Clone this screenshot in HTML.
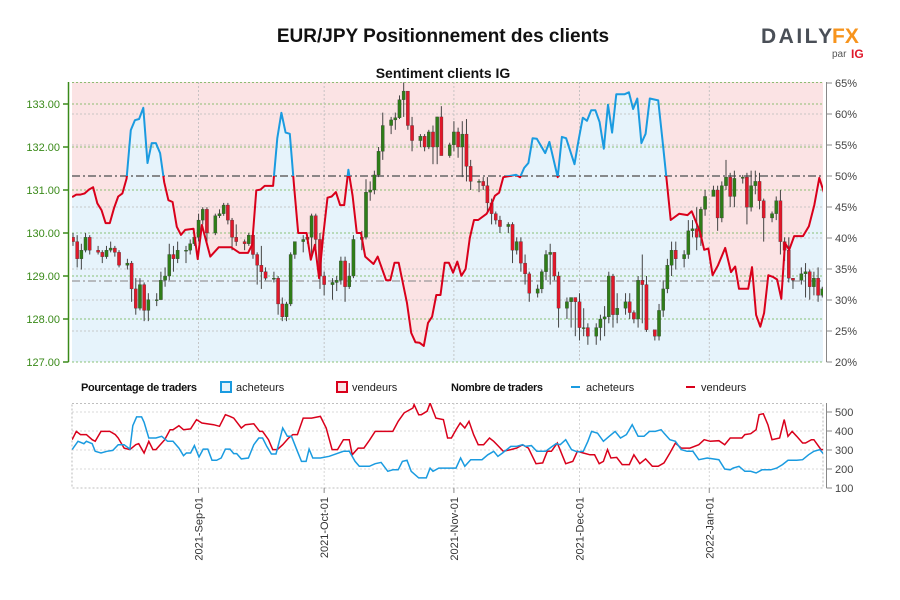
<!DOCTYPE html>
<html><head><meta charset="utf-8">
<style>
html,body{margin:0;padding:0;background:#fff;}
svg{display:block;font-family:"Liberation Sans",sans-serif;}
</style></head>
<body>
<svg id="chart" width="900" height="600" viewBox="0 0 900 600">
<defs>
<clipPath id="plotClip"><rect x="72" y="82" width="751" height="280"/></clipPath>
<clipPath id="aboveHalf"><rect x="72" y="82" width="751" height="94"/></clipPath>
<clipPath id="belowHalf"><rect x="72" y="176" width="751" height="186"/></clipPath>
<clipPath id="botClip"><rect x="72" y="403" width="751" height="85"/></clipPath>
</defs>
<text x="443" y="42" text-anchor="middle" font-size="19" font-weight="bold" fill="#111">EUR/JPY Positionnement des clients</text>
<text x="443" y="78" text-anchor="middle" font-size="14" font-weight="bold" fill="#111">Sentiment clients IG</text>
<g>
<text x="761" y="43" font-size="21" font-weight="bold" fill="#4a4f57" letter-spacing="2.5">DAILY</text>
<text x="832" y="43" font-size="21" font-weight="bold" fill="#f7941d">FX</text>
<text x="832" y="57" font-size="10" fill="#555">par</text>
<text x="851" y="58" font-size="12" font-weight="bold" fill="#e0182a">IG</text>
</g>
<g id="main"></g>
<g id="legend">
<text x="81" y="391" font-size="11" font-weight="bold" fill="#111" textLength="116">Pourcentage de traders</text>
<rect x="221" y="382" width="10" height="10" fill="#e6f3fb" stroke="#1a9be0" stroke-width="2"/>
<text x="236" y="391" font-size="11" fill="#222">acheteurs</text>
<rect x="337" y="382" width="10" height="10" fill="#fbe3e4" stroke="#d9001b" stroke-width="2"/>
<text x="352" y="391" font-size="11" fill="#222">vendeurs</text>
<text x="451" y="391" font-size="11" font-weight="bold" fill="#111" textLength="92">Nombre de traders</text>
<rect x="571" y="386" width="9" height="2" fill="#1a9be0"/>
<text x="586" y="391" font-size="11" fill="#222">acheteurs</text>
<rect x="686" y="386" width="9" height="2" fill="#d9001b"/>
<text x="701" y="391" font-size="11" fill="#222">vendeurs</text>
</g>
<g id="bottom"></g>
</svg>
<script>
// ---- data ----
const closes = [129.8,129.4,129.6,129.9,129.6,
129.55,129.45,129.6,129.65,129.55,129.25,
129.3,128.7,128.25,128.8,128.2,128.45,
128.45,128.9,129.0,129.5,129.4,129.6,
129.6,129.75,129.9,130.3,130.55,130.0,
130.4,130.45,130.65,130.3,129.9,129.8,
129.75,129.95,129.5,129.25,129.1,128.95,
128.95,128.35,128.05,128.35,129.5,129.8,
129.85,129.9,130.4,129.85,129.0,128.8,
128.85,128.9,129.35,128.75,129.0,129.85,
129.9,130.95,131.0,131.35,131.9,132.5,
132.63,132.68,133.1,133.3,132.5,132.15,
132.25,132.0,132.35,132.0,132.7,131.8,
132.05,132.35,132.0,132.3,131.55,131.2,
131.2,131.1,130.7,130.45,130.3,130.15,
130.2,129.6,129.8,129.3,129.05,128.6,
128.7,129.1,129.5,129.55,129.0,128.25,
128.4,128.5,128.4,127.8,127.8,127.6,
127.8,128.0,128.05,129.0,128.1,128.25,
128.4,128.15,128.0,128.9,128.8,127.75,
127.6,128.2,128.7,129.25,129.6,129.4,
129.5,130.05,130.1,129.9,130.55,130.85,
131.0,130.35,131.1,131.3,130.85,131.27,
131.3,130.6,131.1,131.2,130.75,130.35,
130.45,130.75,129.8,129.6,128.95,128.9,
129.05,129.1,128.75,128.95,128.55,128.7];
const highs = [130.0,129.95,129.75,130.0,129.95,
129.7,129.6,129.7,129.8,129.7,129.6,
129.4,129.35,128.95,128.95,128.85,128.6,
128.6,129.1,129.2,129.75,129.7,129.8,
129.7,129.85,130.0,130.45,130.6,130.6,
130.45,130.55,130.7,130.7,130.35,130.2,
129.85,130.0,130.05,129.55,129.7,129.2,
129.1,129.0,128.5,128.4,129.55,129.8,
129.95,129.95,130.45,130.45,130.0,129.1,
128.95,129.0,129.45,129.45,129.3,129.95,
130.05,131.25,131.2,131.45,132.0,132.8,
132.7,132.8,133.2,133.5,133.3,132.7,
132.3,132.3,132.4,132.5,132.7,132.95,
132.1,132.6,132.45,132.6,132.65,131.7,
131.25,131.3,131.3,130.8,130.5,130.4,
130.25,130.25,129.9,129.9,129.5,129.1,
128.8,129.15,129.6,129.75,129.55,129.1,
128.5,128.5,128.5,128.6,128.25,127.9,
127.9,128.1,128.3,129.1,129.05,128.6,
128.6,128.6,128.2,129.0,129.5,129.0,
127.7,128.35,128.9,129.4,129.8,129.8,
129.6,130.3,130.3,130.6,130.6,131.0,
131.1,131.1,131.2,131.7,131.4,131.45,
131.35,131.4,131.45,131.45,131.4,130.8,
130.5,130.85,131.0,129.9,129.9,128.95,
129.2,129.3,129.15,129.1,129.2,128.75];
const lows = [129.7,129.2,129.15,129.55,129.5,
129.5,129.3,129.4,129.55,129.45,129.2,
129.15,128.4,128.1,128.2,127.95,127.95,
128.3,128.5,128.75,128.9,129.1,129.3,
129.3,129.5,129.7,129.8,130.2,129.8,
129.95,130.35,130.4,130.2,129.6,129.7,
129.6,129.7,129.4,128.8,128.7,128.9,
128.85,128.1,127.95,127.95,128.3,129.4,
129.55,129.75,129.5,129.65,128.7,128.55,
128.45,128.65,128.8,128.4,128.7,128.95,
129.6,129.85,130.75,130.9,131.3,131.7,
132.3,132.4,132.65,132.7,132.4,131.9,
132.0,131.9,131.95,131.6,131.6,131.8,
131.75,131.9,131.75,131.3,131.2,131.0,
130.95,131.0,130.5,130.2,130.2,130.0,
130.0,129.3,129.5,129.1,128.8,128.4,
128.5,128.6,128.9,128.8,128.9,127.8,
128.0,127.8,127.6,127.5,127.6,127.4,
127.4,127.5,127.6,127.9,127.8,127.9,
128.1,128.0,127.9,127.8,127.9,127.7,
127.5,127.5,128.05,128.6,129.0,129.15,
129.2,129.4,129.9,129.6,129.7,130.4,
130.85,130.05,130.25,131.0,130.6,130.6,
131.15,130.2,130.5,130.9,130.55,129.8,
130.25,130.3,129.5,129.35,128.85,128.7,
128.8,128.5,128.45,128.55,128.4,128.5];
const firstOpen = 129.9;

const sentDays = [0,1,2,3,4,5,6,7,8,9,10,11,12,13,14,15,16,17,18,19,20,21,22,23,24,25,26,27,29,30,31,33,35,38,40,42,43,44,45,46,48,49,50,51,52,53,54,56,57,58,59,60,61,62,63,64,65,66,67,68,69,70,72,73,75,76,77,78,80,81,82,83,84,85,86,87,88,89,90,91,92,93,94,95,96,97,99,100,101,102,103,106,107,108,109,110,111,113,114,116,117,118,120,121,122,123,124,125,126,127,128,129,130,132,133,134,135,136,137,138,140,141,142,143,145,147,148,150,151,152,153,154.3,156,157.4,158.4,159.3,161.5,162.4,163.4,164.4,165.3,166.3,167.5,168.4,169.4,170.3,171.3,172.5,174.6,176,177.3,178.5,179.7];
const sentLong = [46.6,47,47,47.2,47.8,48.2,45.6,44.5,42.4,42.4,44.8,46.7,47.2,49.6,57.4,59,59.2,61,52.1,55.3,55.3,53.7,49,46.1,45.8,41.8,40.5,41.3,41.5,36.6,42.1,37,38.5,38.5,37.6,37.6,38.9,47.7,47.8,48.4,48.4,56.1,60.2,57,56.8,48.5,40.8,40.8,36.5,38.9,33.5,40.5,46.5,46.7,47.4,45.3,45.3,51,46.8,40.8,40.8,37,35.8,37,33.2,33.2,36,36,29.5,24.7,23.2,23.1,22.6,26.3,27.3,30.8,30.8,36,36,34.4,36.2,33.9,35,40,42.9,42.9,43.9,45.1,46.8,47.3,49.8,50.2,49.8,51.3,52.1,56.1,56,53.7,55.5,49.8,56.3,56.1,51.9,55.9,59.4,58.9,60.6,60.6,58.7,54.4,61.5,57,63.2,63.2,63.5,60.8,62.5,55.3,56.8,62.5,62.2,55.9,49.4,42.9,43.9,43.7,44.3,41,38.1,38.3,34,35.6,38.4,34.5,35.4,31.8,31.8,35.3,27.6,25.7,27.9,34,33.7,33.3,30.2,39.2,38.1,40.3,40.3,41.9,45.3,49.7,47.1];

const buyDays = [0,1.4,2.8,3.4,4.8,5.5,6.9,8.3,9.7,11,12.4,13.8,14.5,15.4,16.6,17.2,18.3,20,21.4,22.8,24.1,25.5,26.6,27.3,28.3,29.2,30.3,31.3,32.4,33.4,34.5,35.6,36.6,37.7,38.6,39.3,40.4,42.1,43.4,44.6,45.5,46.5,47.6,48.7,49.4,50.3,51.4,52.4,53.8,54.8,55.9,56.6,57.5,59.3,61.4,64.8,66.2,67.6,68.6,71,72.4,73.8,75.4,76.6,77.9,78.9,80,81,82.8,84.6,85.5,86.2,87.6,91.7,92.8,93.8,95.2,97.9,99.3,100.7,101.7,102.8,104.8,106.2,107.6,108.3,109.7,111,113.1,114.5,115.6,116.6,117.9,119.3,120.7,122.1,123.2,124.1,125.5,126.9,128.3,129.7,131,132.4,133.8,135.2,136.6,137.9,139.3,140.7,141.4,142.8,144.1,145.5,146.9,148.3,149.7,151.7,154.5,155.9,157.2,157.9,159.3,160.7,162.1,163.4,164.8,166.9,168.3,169.7,171,173.1,174.5,175.9,177.2,178.6,180];
const buyCount = [302,346,333,346,333,293,284,293,298,328,328,305,428,474,474,446,363,363,372,346,346,310,270,284,284,323,263,305,305,246,246,258,305,305,281,281,253,258,328,363,363,319,279,279,337,416,372,372,293,240,240,305,258,258,267,293,293,240,214,214,228,235,188,196,196,240,246,188,153,153,205,188,205,205,258,214,249,249,275,293,267,284,319,319,328,319,323,293,293,316,333,328,354,302,290,293,346,398,389,346,372,398,363,381,433,372,372,398,398,407,389,354,346,302,293,293,249,258,249,200,196,205,214,188,188,179,196,196,205,223,246,246,249,275,293,302,267];

const sellDays = [0,1,2,3.4,4.8,5.5,6.9,9,10.3,11,12.4,13.8,15.2,15.9,17.2,18.3,19.3,20,22.1,23.4,24.1,25.5,26.6,28.3,29.7,31,33.8,35.2,36.6,37.7,38.6,40.4,41.4,43.4,44.8,45.5,46.9,47.9,49,50.3,51.7,52.7,53.8,55.2,57.2,59.3,60.7,62.1,63.4,64.8,66.2,66.9,68.3,69.7,71,72.4,76.6,77.9,79.3,81.4,81.7,82.8,83.4,84.8,85.5,86.9,88.7,89.7,90.6,91.7,92.7,93.8,94.8,95.9,97,98.3,99.7,100.7,101.7,103,104.8,106.2,107.6,109,110.8,112.4,113.5,114.5,115.9,117.9,119.6,120.7,122.1,123.7,124.8,125.9,126.9,127.9,128.7,130.1,131.4,133.1,134.2,135.6,137,138.6,140,141.4,142.8,144.1,145.5,147.6,149.7,151,152.4,154.5,155.9,157.2,160,160.7,162.1,163.4,164.1,165.1,166.2,167.2,169,170.1,171,172,173.1,174.5,175.2,176.6,177.2,178.9,180];
const sellCount = [354,398,381,381,354,346,398,398,381,363,310,302,328,333,284,346,302,302,354,407,407,428,407,411,460,442,433,425,486,477,468,416,433,438,398,398,354,302,302,328,363,381,381,468,468,477,416,302,302,354,354,275,310,310,351,398,398,451,495,521,539,486,486,504,547,468,460,363,363,407,442,416,451,381,328,328,363,346,323,293,302,310,328,310,228,232,293,293,337,228,240,293,284,275,275,228,240,302,258,261,223,223,275,228,253,214,214,232,284,337,310,310,328,354,346,349,328,363,363,381,386,407,486,491,433,354,363,460,372,398,372,337,337,354,354,302,302];

const priceTicks = ["127.00","128.00","129.00","130.00","131.00","132.00","133.00"];
const pctTicks = ["20%","25%","30%","35%","40%","45%","50%","55%","60%","65%"];
const countTicks = ["100","200","300","400","500"];
const monthLabels = ["2021-Sep-01","2021-Oct-01","2021-Nov-01","2021-Dec-01","2022-Jan-01"];
const monthDays = [31,61,92,122,153];

// ---- scales ----
const LINE_SHIFT = 0.8;
const xs = d => 68.8 + 4.186*d;
const py = p => 104 + (133 - p)*43;
const qy = q => 362 - (q - 20)*6.2;
const cy = v => 488 - (v - 100)*0.19;
const NS = "http://www.w3.org/2000/svg";
function mk(tag, attrs, parent){
  const e = document.createElementNS(NS, tag);
  for (const k in attrs) e.setAttribute(k, attrs[k]);
  parent.appendChild(e); return e;
}
const main = document.getElementById('main');
const bottom = document.getElementById('bottom');

// background pink (sellers area)
const bg = mk('rect',{x:72,y:82,width:751,height:280,fill:'#fbe3e4'},main);



// blue area under line
let pts = sentDays.map((d,i)=>xs(d+LINE_SHIFT).toFixed(1)+','+qy(sentLong[i]).toFixed(1));
const area = mk('polygon',{points: xs(sentDays[0]+LINE_SHIFT-1).toFixed(1)+',362 '+xs(sentDays[0]+LINE_SHIFT-1).toFixed(1)+','+qy(sentLong[0]).toFixed(1)+' '+pts.join(' ')+' '+xs(sentDays[sentDays.length-1]+LINE_SHIFT+1).toFixed(1)+','+qy(sentLong[sentLong.length-1]).toFixed(1)+' '+xs(sentDays[sentDays.length-1]+LINE_SHIFT+1).toFixed(1)+',362',fill:'#e6f3fb','clip-path':'url(#plotClip)'},main);



// grids
for (let p=127;p<=133;p++){
  const g = mk('line',{x1:72,x2:823,y1:py(p),y2:py(p),stroke:'#6ab04c','stroke-width':0.8,'stroke-dasharray':'2,2'},main);
  
  
}
const gt = mk('line',{x1:72,x2:823,y1:82.5,y2:82.5,stroke:'#6ab04c','stroke-width':0.8,'stroke-dasharray':'2,2'},main);


for (let q=25;q<=60;q+=5){
  if (q===50) continue;
  const g = mk('line',{x1:72,x2:823,y1:qy(q),y2:qy(q),stroke:'#bbb','stroke-width':0.8,'stroke-dasharray':'2,2'},main);
  
  
}
monthDays.forEach(d=>{
  const g = mk('line',{x1:xs(d),x2:xs(d),y1:82,y2:362,stroke:'#bbb','stroke-width':0.8,'stroke-dasharray':'2,2'},main);
  
  
});
const l50 = mk('line',{x1:72,x2:823,y1:qy(50),y2:qy(50),stroke:'#666','stroke-width':1.4,'stroke-dasharray':'8,3,2,3'},main);


const lref = mk('line',{x1:72,x2:823,y1:281,y2:281,stroke:'#999','stroke-width':1.2,'stroke-dasharray':'8,3,2,3'},main);



// candles
const cg = mk('g',{'clip-path':'url(#plotClip)'},main);


let d = 1, prev = firstOpen;
for (let i=0;i<closes.length;i++){
  while (d % 7 === 6) d++;
  const o = prev, c = closes[i], x = xs(d);
  const up = c >= o;
  const w = mk('line',{x1:x,x2:x,y1:py(highs[i]),y2:py(lows[i]),stroke:'#444','stroke-width':1},cg);
  
  
  const top = py(Math.max(o,c)), h = Math.max(1, Math.abs(py(o)-py(c)));
  const b = mk('rect',{x:x-1.6,y:top,width:3.2,height:h,fill: up?'#2f7d18':'#e0182a',stroke:'#333','stroke-width':0.3},cg);
  
  
  prev = c; d++;
}

// sentiment line
const lp = sentDays.map((dd,i)=>xs(dd+LINE_SHIFT).toFixed(1)+','+qy(sentLong[i]).toFixed(1)).join(' ');
const lb = mk('polyline',{points:lp,fill:'none',stroke:'#1a9be0','stroke-width':2,'clip-path':'url(#aboveHalf)','stroke-linejoin':'round'},main);


const lr = mk('polyline',{points:lp,fill:'none',stroke:'#d9001b','stroke-width':2,'clip-path':'url(#belowHalf)','stroke-linejoin':'round'},main);



// axes
const la = mk('line',{x1:68.5,x2:68.5,y1:82,y2:362,stroke:'#3a8a1a','stroke-width':1.5},main);


priceTicks.forEach((t,i)=>{
  const y = py(127+i);
  const tk = mk('line',{x1:63,x2:68.5,y1:y,y2:y,stroke:'#3a8a1a','stroke-width':1.5},main);
  
  
  const tx = mk('text',{x:60,y:y+4,'text-anchor':'end','font-size':11,fill:'#3a8a1a'},main);
  tx.textContent = t;
  
  
});
const ra = mk('line',{x1:826.5,x2:826.5,y1:82,y2:362,stroke:'#888','stroke-width':1},main);


pctTicks.forEach((t,i)=>{
  const y = qy(20+i*5);
  const tk = mk('line',{x1:826.5,x2:832,y1:y,y2:y,stroke:'#888','stroke-width':1},main);
  
  
  const tx = mk('text',{x:835,y:y+4,'font-size':11,fill:'#444'},main);
  tx.textContent = t;
  
  
});

// bottom chart
const bb = mk('rect',{x:72,y:403.5,width:751,height:84.5,fill:'none',stroke:'#aaa','stroke-width':0.8,'stroke-dasharray':'2,2'},bottom);


[200,300,400,500].forEach(v=>{
  const g = mk('line',{x1:72,x2:823,y1:cy(v),y2:cy(v),stroke:'#ccc','stroke-width':0.8,'stroke-dasharray':'2,2'},bottom);
  
  
});
monthDays.forEach((md,i)=>{
  const x = xs(md);
  const g = mk('line',{x1:x,x2:x,y1:403,y2:488,stroke:'#ccc','stroke-width':0.8,'stroke-dasharray':'2,2'},bottom);
  
  
  const tk = mk('line',{x1:x,x2:x,y1:488,y2:493,stroke:'#888','stroke-width':1},bottom);
  
  
  const tx = mk('text',{x:0,y:0,'text-anchor':'end','font-size':11,fill:'#333',transform:'translate('+(x+4)+',497) rotate(-90)'},bottom);
  tx.textContent = monthLabels[i];
  
  
});
const sl = mk('polyline',{points:sellDays.map((dd,i)=>xs(dd+LINE_SHIFT).toFixed(1)+','+cy(sellCount[i]).toFixed(1)).join(' '),fill:'none',stroke:'#d9001b','stroke-width':1.5,'clip-path':'url(#botClip)'},bottom);


const bl = mk('polyline',{points:buyDays.map((dd,i)=>xs(dd+LINE_SHIFT).toFixed(1)+','+cy(buyCount[i]).toFixed(1)).join(' '),fill:'none',stroke:'#1a9be0','stroke-width':1.5,'clip-path':'url(#botClip)'},bottom);


const ba = mk('line',{x1:826.5,x2:826.5,y1:403,y2:488,stroke:'#888','stroke-width':1},bottom);


countTicks.forEach(t=>{
  const y = cy(+t);
  const tk = mk('line',{x1:826.5,x2:832,y1:y,y2:y,stroke:'#888','stroke-width':1},bottom);
  
  
  const tx = mk('text',{x:835,y:y+4,'font-size':11,fill:'#444'},bottom);
  tx.textContent = t;
  
  
});
</script>
</body></html>
